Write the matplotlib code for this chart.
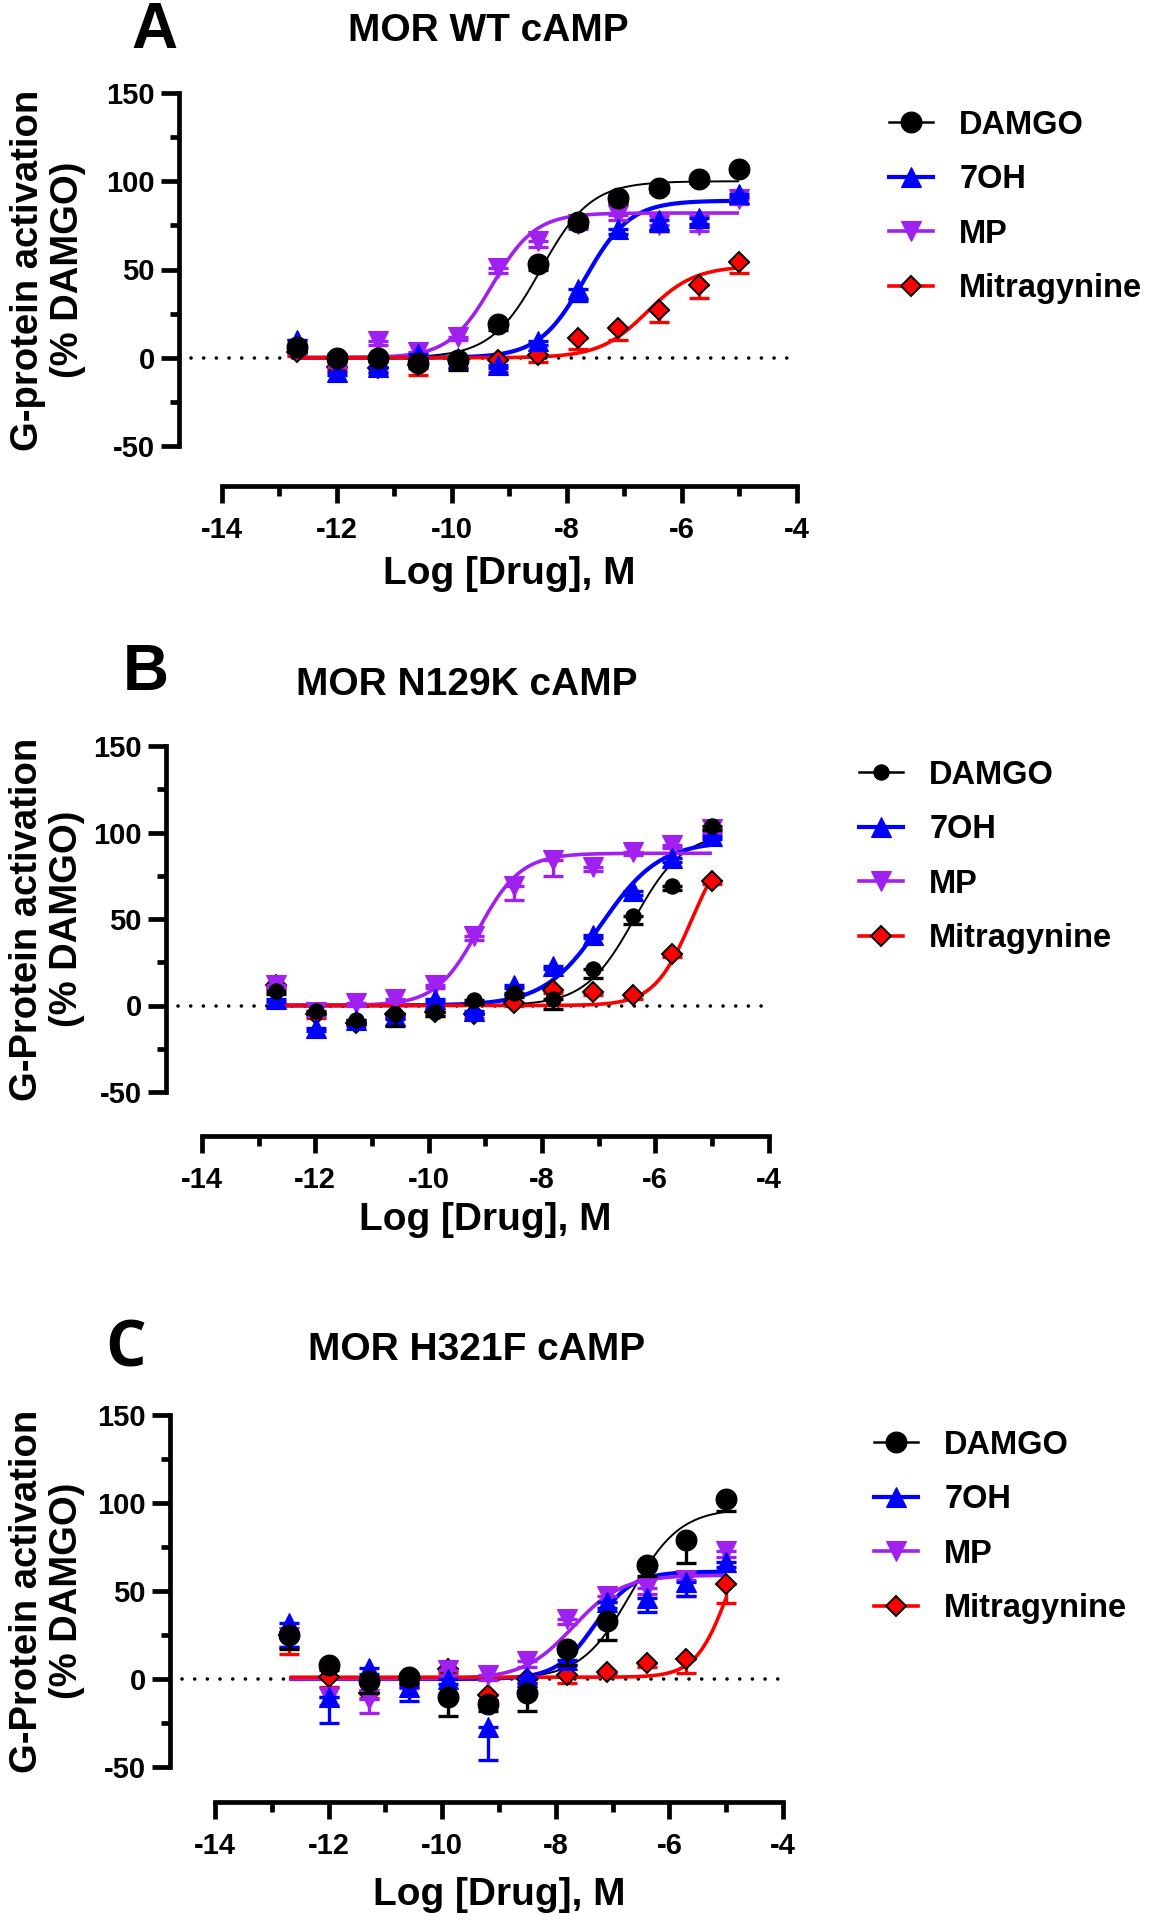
import numpy as np
import matplotlib
matplotlib.use("Agg")
import matplotlib.pyplot as plt
from matplotlib.lines import Line2D

plt.rcParams['font.family'] = ['Liberation Sans', 'DejaVu Sans']
plt.rcParams['font.weight'] = 'bold'
plt.rcParams['axes.unicode_minus'] = False

# ---------------- data ----------------
log_conc = [-12.69, -11.99, -11.29, -10.59, -9.89, -9.19, -8.50, -7.80, -7.10, -6.40, -5.70, -5.00]
drugs = ['DAMGO', '7OH', 'MP', 'Mitragynine']

# Panel A: MOR WT cAMP
a_damgo = [6, 0, 0, -3, -1, 19, 53, 77, 90.5, 96, 101, 107]
a_7oh = [10, -8, -5, 2, 0, -4, 9.5, 39, 73, 78, 79, 93]
a_mp = [5, -3, 9.5, 3, 12, 51, 66, 76, 81, 75, 75, 90]
a_mitra = [3, -5, -6, -4, -1, -1, 1.5, 11, 17, 27, 41.5, 54]
a_damgo_sem = [3, 2, 2, 3, 6, 3, 3, 3, 3, 2, 2, 2]
a_7oh_sem = [3, 2, 3, 2, 2, 2, 2, 7, 3, 6, 3, 2]
a_mp_sem = [3, 2, 2, 2, 2, 3, 3, 3, 3, 3, 3, 3]
a_mitra_sem = [2, 2, 3, 6, 2, 7, 4, 6, 7, 7, 7.5, 6]
# fitted curve parameters: bottom, top, logEC50, hill
a_fit = {'DAMGO': (0, 100, -8.45, 1.0), '7OH': (0, 89, -7.69, 1.1),
         'MP': (0, 82, -9.30, 1.16), 'Mitragynine': (0, 52, -6.6, 1.05)}

# Panel B: MOR N129K cAMP
b_damgo = [8.4, -3, -8.6, -5, -4, 3, 7, 4, 21, 52, 69, 103.5]
b_7oh = [4, -13, -8.6, -6, 4, -3, 12, 23, 41, 66, 85, 98]
b_mp = [12, -4, 1.6, 4, 12, 40, 69, 84, 80, 89, 93, 102]
b_mitra = [12, -5, -10, -5, -4, -5, 1.6, 9, 8, 6, 30, 72]
b_damgo_sem = [2, 2, 2, 7, 2, 2, 2, 6, 5, 5, 2, 2]
b_7oh_sem = [2, 2, 2, 2, 2, 2, 2, 2, 2, 2, 2, 2]
b_mp_sem = [2, 2, 2, 2, 2, 2, 8, 9, 2, 2, 2, 2]
b_mitra_sem = [2, 2, 2, 2, 2, 2, 2, 2, 2, 2, 2, 2]
b_fit = {'DAMGO': (0, 100, -6.37, 1.0), '7OH': (0, 95, -6.94, 0.85),
         'MP': (0, 88, -9.12, 1.16), 'Mitragynine': (0, 100, -5.35, 1.3)}

# Panel C: MOR H321F cAMP
c_damgo = [25, 8, -1, 1, -10, -14, -8, 17, 33, 65, 79, 102]
c_7oh = [32, -10, 6, -4.6, 0, -27.5, 1, 11, 43.5, 46, 55, 66.5]
c_mp = [24, -10, -11.5, -2, 5, 2.3, 10, 34, 47, 51.5, 56, 72.6]
c_mitra = [25, 1, -8, 0, 5.7, -9, 0, 2.3, 4, 9, 11.5, 54]
c_damgo_sem = [8, 3, 7, 4, 11, 4, 10, 9, 11, 6.6, 13, 6.5]
c_7oh_sem = [14, 15, 3, 8, 3, 18.5, 3, 3, 3, 8, 8, 3]
c_mp_sem = [6, 5, 8, 3, 3, 3, 3, 3, 3, 3, 9, 3]
c_mitra_sem = [11, 5.6, 3, 2, 2, 3, 2, 4.3, 2, 2, 8, 11]
c_fit = {'DAMGO': (0, 97, -6.68, 1.0), '7OH': (0, 61, -7.32, 1.3),
         'MP': (0, 59, -7.7, 1.0), 'Mitragynine': (1, 100, -4.95, 1.5)}

x_ticks = [-14, -12, -10, -8, -6, -4]
y_ticks = [-50, 0, 50, 100, 150]

titles = ['MOR WT cAMP', 'MOR N129K cAMP', 'MOR H321F cAMP']
letters = ['A', 'B', 'C']
ylabels = ['G-protein activation\n(% DAMGO)', 'G-Protein activation\n(% DAMGO)',
           'G-Protein activation\n(% DAMGO)']
xlabel = 'Log [Drug], M'

# ---------------- styles ----------------
styles = {
    'DAMGO': dict(color='black', marker='o', ms=15, mfc='black', mec='black', lw=1.4, z=6),
    '7OH': dict(color='#0000FF', marker='^', ms=15, mfc='#0000FF', mec='#0000FF', lw=3.0, z=5),
    'MP': dict(color='#A020F0', marker='v', ms=15, mfc='#A020F0', mec='#A020F0', lw=2.6, z=4),
    'Mitragynine': dict(color='#FF0000', marker='D', ms=10.5, mfc='#FF0000', mec='black', lw=2.6, z=3),
}

W, H, DPI = 1152, 1920, 100
fig = plt.figure(figsize=(W / DPI, H / DPI), dpi=DPI)

# layout in pixels
panels = [
    dict(x0=222, x1=796.5, y150=93, ym50=446, loff=43, boff=40,
         title=(488, 31), letter=(154, 31.5), legend=(889, 207),
         ylab=(48, 270), xlab=(509, 574), dms=15, lfont='Liberation Sans', lsize=46),
    dict(x0=202, x1=768.5, y150=746, ym50=1092, loff=36, boff=44,
         title=(467, 685), letter=(146, 673), legend=(859, 857),
         ylab=(47, 919), xlab=(485, 1220), dms=11, lfont='Liberation Sans', lsize=46),
    dict(x0=215, x1=783, y150=1415, ym50=1767, loff=45, boff=35,
         title=(477, 1350), letter=(125.5, 1350), legend=(874, 1527),
         ylab=(47, 1591), xlab=(499, 1895), dms=15, lfont='Open Sans', lsize=46),
]

panel_data = [
    (dict(zip(drugs, [a_damgo, a_7oh, a_mp, a_mitra])),
     dict(zip(drugs, [a_damgo_sem, a_7oh_sem, a_mp_sem, a_mitra_sem])), a_fit),
    (dict(zip(drugs, [b_damgo, b_7oh, b_mp, b_mitra])),
     dict(zip(drugs, [b_damgo_sem, b_7oh_sem, b_mp_sem, b_mitra_sem])), b_fit),
    (dict(zip(drugs, [c_damgo, c_7oh, c_mp, c_mitra])),
     dict(zip(drugs, [c_damgo_sem, c_7oh_sem, c_mp_sem, c_mitra_sem])), c_fit),
]

PT = 72.0 / DPI  # points per pixel


def fx(px):
    return px / W


def fy(py):
    return 1 - py / H


def logistic(x, bottom, top, logec50, hill):
    return bottom + (top - bottom) / (1 + 10 ** ((logec50 - x) * hill))


for i, (lay, (vals, sems, fits)) in enumerate(zip(panels, panel_data)):
    ax = fig.add_axes([fx(lay['x0']), fy(lay['ym50']),
                       (lay['x1'] - lay['x0']) / W, (lay['ym50'] - lay['y150']) / H])
    ax.set_xlim(-14, -4)
    ax.set_ylim(-50, 150)
    ax.patch.set_alpha(0)
    for s in ['top', 'right']:
        ax.spines[s].set_visible(False)
    ax.spines['left'].set_position(('outward', lay['loff'] * PT))
    ax.spines['bottom'].set_position(('outward', lay['boff'] * PT))
    ax.spines['left'].set_bounds(-50, 150)
    ax.spines['bottom'].set_bounds(-14, -4)
    for s in ['left', 'bottom']:
        ax.spines[s].set_linewidth(3.4)
        ax.spines[s].set_capstyle('projecting')
    ax.set_xticks(x_ticks)
    ax.set_xticklabels([str(t) for t in x_ticks])
    ax.set_yticks(y_ticks)
    ax.set_yticklabels([str(t) for t in y_ticks])
    ax.set_xticks([-13, -11, -9, -7, -5], minor=True)
    ax.set_yticks([-25, 25, 75, 125], minor=True)
    ax.tick_params(axis='y', which='major', length=13, width=3.4, pad=4.3, labelsize=21)
    ax.tick_params(axis='y', which='minor', length=6.5, width=3.4)
    ax.tick_params(axis='x', which='major', length=12.5, width=3.4, pad=9, labelsize=21)
    ax.tick_params(axis='x', which='minor', length=7, width=3.4)
    for lab in ax.get_xticklabels() + ax.get_yticklabels():
        lab.set_fontweight('bold')

    # dotted zero line
    ax.axhline(0, xmin=-(lay['loff'] - 12) / (lay['x1'] - lay['x0']), xmax=1,
               color='black', lw=2.6, ls=(0, (0.01, 3.5)), dash_capstyle='round',
               clip_on=False, zorder=1)

    xfit = np.linspace(min(log_conc), max(log_conc), 400)
    handles = []
    for d in drugs:
        st = styles[d]
        ms = lay['dms'] if d == 'DAMGO' else st['ms']
        ax.plot(xfit, logistic(xfit, *fits[d]), color=st['color'], lw=st['lw'],
                zorder=2, solid_capstyle='butt')
        y = np.array(vals[d], dtype=float)
        e = np.array(sems[d], dtype=float)
        ax.errorbar(log_conc, y, yerr=[e, np.zeros_like(e)], fmt='none',
                    ecolor=st['color'], elinewidth=2.4, capsize=7, capthick=2.4,
                    zorder=st['z'] - 0.5, clip_on=False)
        ax.plot(log_conc, y, ls='none', marker=st['marker'], ms=ms,
                mfc=st['mfc'], mec=st['mec'],
                mew=1.4 if d == 'Mitragynine' else 0.8,
                zorder=st['z'] + 0.1, clip_on=False)
        handles.append(Line2D([], [], color=st['color'], lw=st['lw'] if d != 'DAMGO' else 1.8,
                              marker=st['marker'], ms=ms, mfc=st['mfc'], mec=st['mec'],
                              mew=1.4 if d == 'Mitragynine' else 0.8))

    lx, ly = lay['legend']
    fig.legend(handles, drugs, loc='center left', bbox_to_anchor=(fx(lx), fy(ly)),
               bbox_transform=fig.transFigure, frameon=False,
               prop=dict(family='Liberation Sans', weight='bold', size=23.5),
               handlelength=1.35, handletextpad=0.8, labelspacing=0.72,
               borderpad=0, borderaxespad=0)

    tx, ty = lay['title']
    fig.text(fx(tx), fy(ty), titles[i], ha='center', va='center', fontsize=28,
             fontweight='bold')
    lx2, ly2 = lay['letter']
    fig.text(fx(lx2), fy(ly2), letters[i], ha='center', va='center',
             fontsize=lay['lsize'], fontweight='bold', family=[lay['lfont'], 'DejaVu Sans'])
    yx, yy = lay['ylab']
    fig.text(fx(yx), fy(yy), ylabels[i], rotation=90, ha='center', va='center',
             multialignment='center', fontsize=27.5, fontweight='bold', linespacing=1.15)
    xx, xy = lay['xlab']
    fig.text(fx(xx), fy(xy), xlabel, ha='center', va='center', fontsize=28,
             fontweight='bold')

fig.savefig('out.png', dpi=DPI)
